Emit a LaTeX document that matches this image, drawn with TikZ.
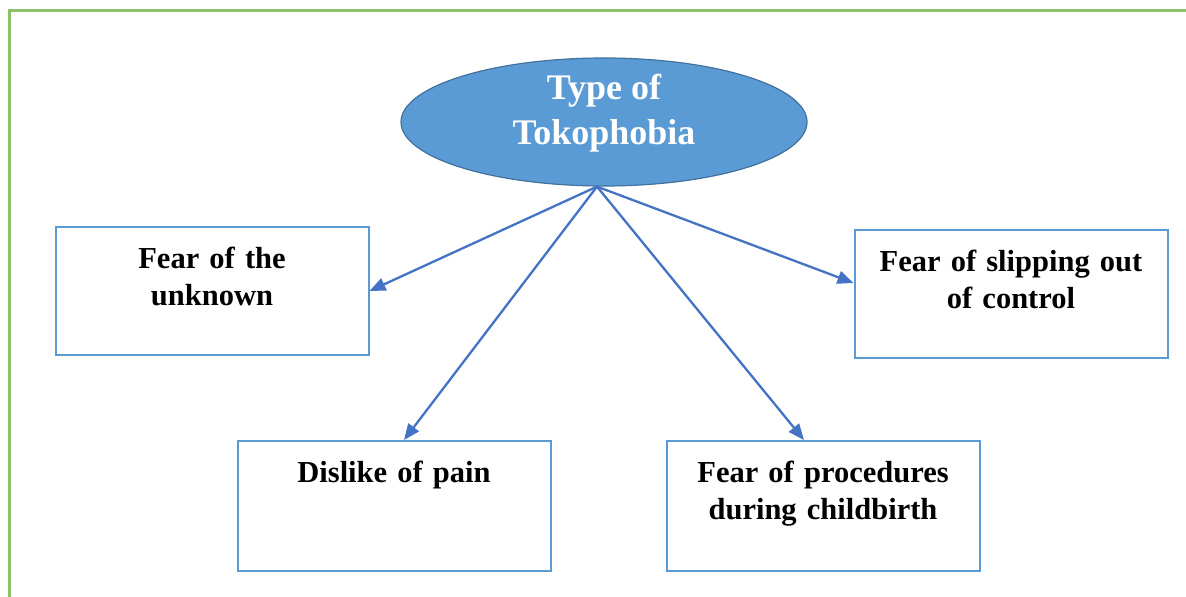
\documentclass[tikz,border=0pt]{standalone}
\usepackage{fontspec}
\setmainfont{Liberation Serif}
\usepackage{tikz}
\usetikzlibrary{arrows.meta,shapes.geometric}

\definecolor{framegreen}{HTML}{8DC26B}
\definecolor{fillblue}{HTML}{5B9BD5}
\definecolor{rimblue}{HTML}{41719C}
\definecolor{arrowblue}{HTML}{4472C4}

\begin{document}
\begin{tikzpicture}[
        x=1pt, y=-1pt,
        >={Triangle[length=16pt,width=13pt]},
        kind/.style={draw=fillblue, line width=2pt, minimum width=313pt,
          minimum height=128pt, inner sep=0pt},
        kindtext/.style={anchor=north, align=center, text width=300pt,
          font=\fontsize{30.5}{37}\selectfont\bfseries, inner sep=0pt},
        link/.style={->, draw=arrowblue, line width=2.3pt}
        ]
        \useasboundingbox (0,0) rectangle (1186,597);
        % frame
        \draw[framegreen, line width=3pt] (9,597) -- (9,10) -- (1186,10);
        % centre
        \node[ellipse, fill=fillblue, draw=rimblue, line width=1.2pt,
          minimum width=406pt, minimum height=128pt, inner sep=0pt,
          label={[text=white, align=center, yshift=9pt,
            font=\fontsize{36}{45}\selectfont\bfseries]center:Type of\\Tokophobia}]
          (type) at (604,122) {};
        % kinds
        \node[kind, label={[kindtext, yshift=-21pt]north:Fear of the\\unknown}]
          (unknown) at (212,291) {};
        \node[kind, label={[kindtext, yshift=-21pt]north:Fear of slipping out\\of control}]
          (control) at (1011,294) {};
        \node[kind, minimum height=130pt, label={[kindtext, yshift=-21pt]north:Dislike of pain}]
          (pain) at (394,506) {};
        \node[kind, minimum height=130pt, label={[kindtext, yshift=-21pt]north:Fear of procedures\\during childbirth}]
          (procedures) at (823,506) {};
        % arrows
        \draw[link] ([xshift=-7pt]type.south) -- (unknown.east);
        \draw[link] ([xshift=-7pt]type.south) -- ([yshift=11pt]control.west);
        \draw[link] ([xshift=-7pt]type.south) -- ([xshift=10pt]pain.north);
        \draw[link] ([xshift=-7pt]type.south) -- ([xshift=-19pt]procedures.north);
\end{tikzpicture}
\end{document}
